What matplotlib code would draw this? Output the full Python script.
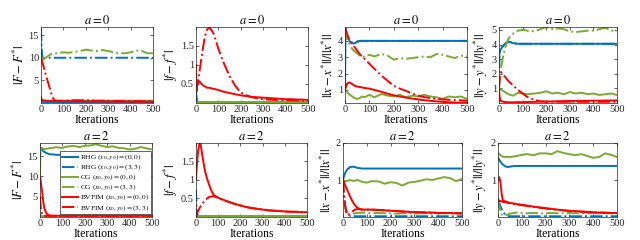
import matplotlib
matplotlib.use('Agg')
import matplotlib.pyplot as plt

plt.rcParams['font.family'] = ['Liberation Serif', 'DejaVu Serif']
plt.rcParams['mathtext.fontset'] = 'stix'

iters = [0, 2, 5, 10, 15, 20, 30, 40, 50, 60, 70, 80, 100, 120, 150, 175, 200,
         225, 250, 275, 300, 325, 350, 375, 400, 425, 450, 475, 500]

labels = [r'RHG $(x_0,y_0)=(0,0)$', r'RHG $(x_0,y_0)=(3,3)$',
          r'CG $(x_0,y_0)=(0,0)$', r'CG $(x_0,y_0)=(3,3)$',
          r'BVFIM $(x_0,y_0)=(0,0)$', r'BVFIM $(x_0,y_0)=(3,3)$']

# ---------- a = 0, |F - F*| ----------
F0_rhg00 = [1.2, 0.8, 0.4, 0.2, 0.12, 0.1, 0.1, 0.1, 0.1, 0.1, 0.1, 0.1, 0.1, 0.1, 0.1, 0.1, 0.1,
            0.1, 0.1, 0.1, 0.1, 0.1, 0.1, 0.1, 0.1, 0.1, 0.1, 0.1, 0.1]
F0_rhg33 = [16.5, 13.0, 10.5, 9.8, 9.8, 9.9, 10.0, 10.0, 10.0, 10.0, 10.0, 10.0, 10.0, 10.0, 10.0, 10.0, 10.0,
            10.0, 10.0, 10.0, 10.0, 10.0, 10.0, 10.0, 10.0, 10.0, 10.0, 10.0, 10.0]
F0_cg00 = [1.2, 1.0, 0.8, 0.6, 0.55, 0.5, 0.5, 0.5, 0.48, 0.5, 0.52, 0.5, 0.48, 0.5, 0.52, 0.5, 0.5,
           0.48, 0.5, 0.52, 0.5, 0.48, 0.5, 0.5, 0.52, 0.5, 0.48, 0.5, 0.5]
F0_cg33 = [10.0, 10.0, 10.0, 9.9, 9.9, 10.0, 10.3, 10.7, 10.9, 11.0, 11.0, 11.1, 11.2, 11.1, 11.3, 11.5, 11.8,
           11.6, 11.5, 11.7, 11.5, 11.2, 11.0, 11.0, 11.2, 11.6, 11.5, 11.0, 11.0]
F0_bv00 = [1.0, 0.8, 0.6, 0.5, 0.5, 0.5, 0.45, 0.45, 0.42, 0.42, 0.4, 0.4, 0.4, 0.4, 0.38, 0.38, 0.36,
           0.36, 0.35, 0.35, 0.34, 0.33, 0.32, 0.32, 0.31, 0.3, 0.3, 0.3, 0.3]
F0_bv33 = [10.0, 9.7, 9.2, 8.3, 7.4, 6.5, 4.8, 3.1, 1.4, 0.6, 0.5, 0.5, 0.5, 0.55, 0.6, 0.6, 0.6,
           0.55, 0.5, 0.5, 0.5, 0.48, 0.45, 0.45, 0.42, 0.42, 0.4, 0.4, 0.4]

# ---------- a = 0, |f - f*| ----------
f0_rhg00 = [0.25, 0.15, 0.05, 0.02, 0.01, 0.01, 0.01, 0.01, 0.01, 0.01, 0.01, 0.01, 0.01, 0.01, 0.01, 0.01, 0.01,
            0.01, 0.01, 0.01, 0.01, 0.01, 0.01, 0.01, 0.01, 0.01, 0.01, 0.01, 0.01]
f0_rhg33 = [0.3, 0.1, 0.03, 0.01, 0.01, 0.01, 0.01, 0.01, 0.01, 0.01, 0.01, 0.01, 0.01, 0.01, 0.01, 0.01, 0.01,
            0.01, 0.01, 0.01, 0.01, 0.01, 0.01, 0.01, 0.01, 0.01, 0.01, 0.01, 0.01]
f0_cg00 = [0.02, 0.02, 0.02, 0.02, 0.02, 0.02, 0.02, 0.02, 0.02, 0.02, 0.02, 0.02, 0.02, 0.02, 0.02, 0.02, 0.02,
           0.02, 0.02, 0.02, 0.02, 0.02, 0.02, 0.02, 0.02, 0.02, 0.02, 0.02, 0.02]
f0_cg33 = [0.02, 0.02, 0.02, 0.02, 0.02, 0.02, 0.02, 0.02, 0.02, 0.02, 0.02, 0.02, 0.02, 0.02, 0.02, 0.02, 0.02,
           0.02, 0.02, 0.02, 0.02, 0.02, 0.02, 0.02, 0.02, 0.02, 0.02, 0.02, 0.02]
f0_bv00 = [1.0, 0.3, 0.45, 0.57, 0.57, 0.53, 0.47, 0.43, 0.4, 0.4, 0.38, 0.37, 0.34, 0.3, 0.26, 0.23, 0.2,
           0.18, 0.16, 0.15, 0.14, 0.13, 0.12, 0.11, 0.1, 0.1, 0.09, 0.09, 0.08]
f0_bv33 = [0.3, 0.35, 0.45, 0.6, 0.8, 1.0, 1.4, 1.75, 1.93, 1.97, 1.9, 1.8, 1.42, 1.1, 0.7, 0.45, 0.27,
           0.2, 0.15, 0.12, 0.1, 0.09, 0.08, 0.08, 0.07, 0.07, 0.07, 0.06, 0.06]

# ---------- a = 0, ||x - x*|| / ||x*|| ----------
x0_rhg00 = [1.0, 4.8, 4.6, 4.3, 4.1, 3.95, 3.85, 3.85, 3.95, 4.0, 4.0, 4.0, 4.0, 4.0, 4.0, 4.0, 4.0,
            4.0, 4.0, 4.0, 4.0, 4.0, 4.0, 4.0, 4.0, 4.0, 4.0, 4.0, 4.0]
x0_rhg33 = [4.8, 4.7, 4.5, 4.3, 4.1, 4.0, 3.9, 3.9, 3.95, 4.0, 4.0, 4.0, 4.0, 4.0, 4.0, 4.0, 4.0,
            4.0, 4.0, 4.0, 4.0, 4.0, 4.0, 4.0, 4.0, 4.0, 4.0, 4.0, 4.0]
x0_cg00 = [1.0, 0.97, 0.95, 0.85, 0.78, 0.7, 0.6, 0.5, 0.45, 0.5, 0.6, 0.55, 0.7, 0.55, 0.75, 0.65, 0.6,
           0.7, 0.55, 0.65, 0.6, 0.7, 0.6, 0.55, 0.45, 0.6, 0.55, 0.6, 0.45]
x0_cg33 = [4.8, 4.6, 4.4, 4.1, 3.9, 3.75, 3.5, 3.35, 3.25, 3.1, 3.0, 3.05, 3.15, 3.05, 3.2, 3.1, 2.85,
           2.95, 2.9, 2.95, 3.0, 3.05, 3.0, 3.2, 3.15, 3.05, 2.95, 3.1, 3.05]
x0_bv00 = [1.0, 1.1, 1.25, 1.4, 1.45, 1.45, 1.35, 1.25, 1.2, 1.18, 1.15, 1.12, 1.08, 1.0, 0.88, 0.77, 0.67,
           0.6, 0.53, 0.47, 0.42, 0.37, 0.33, 0.3, 0.27, 0.25, 0.23, 0.22, 0.21]
x0_bv33 = [4.8, 4.7, 4.55, 4.35, 4.15, 4.0, 3.8, 3.6, 3.4, 3.2, 3.05, 2.9, 2.6, 2.3, 1.87, 1.55, 1.25,
           1.08, 0.94, 0.78, 0.65, 0.56, 0.5, 0.45, 0.42, 0.4, 0.38, 0.36, 0.35]

# ---------- a = 0, ||y - y*|| / ||y*|| ----------
y0_rhg00 = [3.2, 3.4, 3.6, 3.75, 3.85, 3.95, 4.1, 4.2, 4.15, 4.1, 4.07, 4.05, 4.05, 4.05, 4.05, 4.05, 4.05,
            4.05, 4.05, 4.05, 4.05, 4.05, 4.05, 4.05, 4.05, 4.05, 4.05, 4.05, 4.05]
y0_rhg33 = [1.0, 3.3, 3.6, 3.75, 3.85, 3.95, 4.1, 4.2, 4.15, 4.1, 4.07, 4.05, 4.05, 4.05, 4.05, 4.05, 4.05,
            4.05, 4.05, 4.05, 4.05, 4.05, 4.05, 4.05, 4.05, 4.05, 4.05, 4.05, 4.05]
y0_cg00 = [1.0, 1.0, 0.95, 0.9, 0.85, 0.8, 0.7, 0.6, 0.55, 0.5, 0.6, 0.7, 0.65, 0.6, 0.65, 0.7, 0.8,
           0.65, 0.7, 0.6, 0.75, 0.65, 0.7, 0.6, 0.65, 0.55, 0.6, 0.65, 0.55]
y0_cg33 = [1.0, 1.3, 1.8, 2.5, 3.0, 3.4, 4.0, 4.4, 4.6, 4.75, 4.85, 4.95, 5.0, 4.95, 4.9, 5.05, 5.2,
           5.05, 5.1, 5.05, 4.9, 4.85, 4.9, 4.95, 4.95, 5.05, 5.15, 4.95, 4.95]
y0_bv00 = [1.0, 0.5, 0.2, 0.12, 0.1, 0.08, 0.06, 0.05, 0.05, 0.05, 0.05, 0.06, 0.06, 0.07, 0.08, 0.09, 0.1,
           0.11, 0.12, 0.13, 0.14, 0.14, 0.15, 0.15, 0.16, 0.16, 0.17, 0.17, 0.18]
y0_bv33 = [1.0, 1.6, 2.0, 2.1, 2.0, 1.9, 1.7, 1.5, 1.35, 1.2, 1.05, 0.9, 0.65, 0.42, 0.22, 0.12, 0.08,
           0.08, 0.08, 0.08, 0.08, 0.08, 0.08, 0.08, 0.08, 0.08, 0.08, 0.08, 0.08]

# ---------- a = 2, |F - F*| ----------
F2_rhg00 = [16.5, 17.0, 16.8, 16.5, 16.2, 16.0, 15.7, 15.5, 15.4, 15.4, 15.3, 15.3, 15.3, 15.3, 15.3, 15.3, 15.3,
            15.3, 15.3, 15.3, 15.3, 15.3, 15.3, 15.3, 15.3, 15.3, 15.3, 15.3, 15.3]
F2_rhg33 = [0.5, 0.3, 0.1, 0.05, 0.05, 0.05, 0.05, 0.05, 0.05, 0.05, 0.05, 0.05, 0.05, 0.05, 0.05, 0.05, 0.05,
            0.05, 0.05, 0.05, 0.05, 0.05, 0.05, 0.05, 0.05, 0.05, 0.05, 0.05, 0.05]
F2_cg00 = [10.0, 16.5, 17.0, 17.0, 16.8, 16.7, 16.8, 16.9, 17.0, 17.0, 17.2, 17.1, 17.0, 17.3, 17.5, 17.2, 17.5,
           17.6, 17.9, 17.5, 17.2, 17.4, 17.0, 16.9, 16.6, 16.8, 17.2, 16.9, 16.6]
F2_cg33 = [0.5, 0.3, 0.2, 0.2, 0.2, 0.2, 0.2, 0.2, 0.2, 0.2, 0.2, 0.2, 0.2, 0.2, 0.2, 0.2, 0.2,
           0.2, 0.2, 0.2, 0.2, 0.2, 0.2, 0.2, 0.2, 0.2, 0.2, 0.2, 0.2]
F2_bv00 = [10.0, 9.5, 8.0, 6.0, 3.5, 2.0, 0.8, 0.4, 0.3, 0.3, 0.3, 0.3, 0.3, 0.3, 0.3, 0.3, 0.3,
           0.3, 0.3, 0.3, 0.3, 0.3, 0.3, 0.3, 0.3, 0.3, 0.3, 0.3, 0.3]
F2_bv33 = [5.0, 3.5, 1.5, 0.5, 0.3, 0.3, 0.3, 0.3, 0.3, 0.3, 0.3, 0.3, 0.3, 0.3, 0.3, 0.3, 0.3,
           0.3, 0.3, 0.3, 0.3, 0.3, 0.3, 0.3, 0.3, 0.3, 0.3, 0.3, 0.3]

# ---------- a = 2, |f - f*| ----------
f2_rhg00 = [0.2, 0.1, 0.04, 0.01, 0.01, 0.01, 0.01, 0.01, 0.01, 0.01, 0.01, 0.01, 0.01, 0.01, 0.01, 0.01, 0.01,
            0.01, 0.01, 0.01, 0.01, 0.01, 0.01, 0.01, 0.01, 0.01, 0.01, 0.01, 0.01]
f2_rhg33 = [0.75, 0.3, 0.1, 0.02, 0.01, 0.01, 0.01, 0.01, 0.01, 0.01, 0.01, 0.01, 0.01, 0.01, 0.01, 0.01, 0.01,
            0.01, 0.01, 0.01, 0.01, 0.01, 0.01, 0.01, 0.01, 0.01, 0.01, 0.01, 0.01]
f2_cg00 = [0.02, 0.02, 0.02, 0.02, 0.02, 0.02, 0.02, 0.02, 0.02, 0.02, 0.02, 0.02, 0.02, 0.02, 0.02, 0.02, 0.02,
           0.02, 0.02, 0.02, 0.02, 0.02, 0.02, 0.02, 0.02, 0.02, 0.02, 0.02, 0.02]
f2_cg33 = [0.02, 0.02, 0.02, 0.02, 0.02, 0.02, 0.02, 0.02, 0.02, 0.02, 0.02, 0.02, 0.02, 0.02, 0.02, 0.02, 0.02,
           0.02, 0.02, 0.02, 0.02, 0.02, 0.02, 0.02, 0.02, 0.02, 0.02, 0.02, 0.02]
f2_bv00 = [1.0, 1.2, 1.5, 1.8, 1.95, 1.98, 1.6, 1.25, 1.03, 0.85, 0.7, 0.59, 0.52, 0.47, 0.4, 0.35, 0.31,
           0.27, 0.24, 0.22, 0.2, 0.18, 0.17, 0.16, 0.15, 0.14, 0.14, 0.13, 0.13]
f2_bv33 = [0.0, 0.05, 0.1, 0.17, 0.23, 0.28, 0.37, 0.45, 0.5, 0.54, 0.55, 0.56, 0.51, 0.46, 0.4, 0.35, 0.31,
           0.27, 0.24, 0.22, 0.2, 0.18, 0.17, 0.16, 0.15, 0.14, 0.14, 0.13, 0.13]

# ---------- a = 2, ||x - x*|| / ||x*|| ----------
x2_rhg00 = [1.0, 1.05, 1.12, 1.2, 1.26, 1.3, 1.35, 1.36, 1.35, 1.33, 1.32, 1.31, 1.31, 1.31, 1.31, 1.31, 1.31,
            1.31, 1.31, 1.31, 1.31, 1.31, 1.31, 1.31, 1.31, 1.31, 1.31, 1.31, 1.31]
x2_rhg33 = [1.0, 0.8, 0.55, 0.3, 0.15, 0.08, 0.03, 0.02, 0.02, 0.02, 0.02, 0.02, 0.02, 0.02, 0.02, 0.02, 0.02,
            0.02, 0.02, 0.02, 0.02, 0.02, 0.02, 0.02, 0.02, 0.02, 0.02, 0.02, 0.02]
x2_cg00 = [1.0, 0.99, 0.98, 0.97, 0.97, 0.98, 1.0, 0.98, 0.98, 1.0, 0.98, 0.95, 0.93, 0.97, 0.96, 0.9, 0.94,
           0.92, 0.85, 0.93, 0.95, 0.98, 1.02, 1.0, 1.04, 1.08, 1.05, 0.97, 1.03]
x2_cg33 = [1.0, 0.8, 0.5, 0.25, 0.12, 0.05, 0.05, 0.07, 0.1, 0.11, 0.11, 0.12, 0.11, 0.1, 0.11, 0.1, 0.1,
           0.09, 0.1, 0.1, 0.09, 0.1, 0.1, 0.09, 0.1, 0.1, 0.09, 0.1, 0.1]
x2_bv00 = [1.0, 0.98, 0.93, 0.85, 0.77, 0.7, 0.55, 0.42, 0.32, 0.25, 0.22, 0.2, 0.2, 0.2, 0.19, 0.18, 0.17,
           0.16, 0.15, 0.14, 0.13, 0.13, 0.12, 0.12, 0.11, 0.11, 0.11, 0.1, 0.1]
x2_bv33 = [1.0, 0.8, 0.5, 0.25, 0.1, 0.05, 0.1, 0.15, 0.2, 0.21, 0.21, 0.2, 0.2, 0.2, 0.19, 0.18, 0.17,
           0.16, 0.15, 0.14, 0.13, 0.13, 0.12, 0.12, 0.11, 0.11, 0.11, 0.1, 0.1]

# ---------- a = 2, ||y - y*|| / ||y*|| ----------
y2_rhg00 = [1.6, 1.58, 1.55, 1.5, 1.45, 1.42, 1.37, 1.35, 1.36, 1.37, 1.38, 1.38, 1.38, 1.38, 1.38, 1.38, 1.38,
            1.38, 1.38, 1.38, 1.38, 1.38, 1.38, 1.38, 1.38, 1.38, 1.38, 1.38, 1.38]
y2_rhg33 = [0.5, 0.45, 0.38, 0.3, 0.22, 0.15, 0.07, 0.03, 0.02, 0.02, 0.02, 0.02, 0.02, 0.02, 0.02, 0.02, 0.02,
            0.02, 0.02, 0.02, 0.02, 0.02, 0.02, 0.02, 0.02, 0.02, 0.02, 0.02, 0.02]
y2_cg00 = [1.7, 1.72, 1.7, 1.68, 1.65, 1.63, 1.62, 1.63, 1.62, 1.63, 1.64, 1.65, 1.68, 1.7, 1.67, 1.72, 1.72,
           1.7, 1.78, 1.73, 1.7, 1.67, 1.7, 1.65, 1.6, 1.62, 1.72, 1.68, 1.62]
y2_cg33 = [0.5, 0.42, 0.3, 0.18, 0.08, 0.04, 0.04, 0.06, 0.09, 0.1, 0.11, 0.12, 0.11, 0.1, 0.11, 0.1, 0.1,
           0.11, 0.1, 0.1, 0.11, 0.1, 0.1, 0.1, 0.11, 0.1, 0.1, 0.1, 0.11]
y2_bv00 = [1.0, 1.05, 1.08, 0.95, 0.65, 0.45, 0.42, 0.4, 0.38, 0.37, 0.36, 0.35, 0.33, 0.31, 0.28, 0.26, 0.24,
           0.22, 0.2, 0.18, 0.17, 0.16, 0.15, 0.14, 0.13, 0.12, 0.12, 0.11, 0.11]
y2_bv33 = [0.45, 0.45, 0.44, 0.43, 0.42, 0.41, 0.4, 0.39, 0.37, 0.36, 0.35, 0.34, 0.32, 0.3, 0.27, 0.25, 0.23,
           0.21, 0.19, 0.18, 0.16, 0.15, 0.14, 0.13, 0.12, 0.12, 0.11, 0.11, 0.1]

titles = [r'$a=0$', r'$a=0$', r'$a=0$', r'$a=0$', r'$a=2$', r'$a=2$', r'$a=2$', r'$a=2$']
ylabels = [r'$|F-F^{*}|$', r'$|f-f^{*}|$', r'$||x-x^{*}||/||x^{*}||$', r'$||y-y^{*}||/||y^{*}||$'] * 2
xticks = [0, 100, 200, 300, 400, 500]

panels = [
    [F0_rhg00, F0_rhg33, F0_cg00, F0_cg33, F0_bv00, F0_bv33],
    [f0_rhg00, f0_rhg33, f0_cg00, f0_cg33, f0_bv00, f0_bv33],
    [x0_rhg00, x0_rhg33, x0_cg00, x0_cg33, x0_bv00, x0_bv33],
    [y0_rhg00, y0_rhg33, y0_cg00, y0_cg33, y0_bv00, y0_bv33],
    [F2_rhg00, F2_rhg33, F2_cg00, F2_cg33, F2_bv00, F2_bv33],
    [f2_rhg00, f2_rhg33, f2_cg00, f2_cg33, f2_bv00, f2_bv33],
    [x2_rhg00, x2_rhg33, x2_cg00, x2_cg33, x2_bv00, x2_bv33],
    [y2_rhg00, y2_rhg33, y2_cg00, y2_cg33, y2_bv00, y2_bv33],
]

ylims = [(0, 16.8), (0, 1.99), (0.2, 4.85), (0, 5.2), (0, 18.2), (0, 1.99), (0, 2), (0, 2)]
yticks = [[5, 10, 15], [0.5, 1, 1.5], [1, 2, 3, 4], [1, 2, 3, 4, 5],
          [5, 10, 15], [0.5, 1, 1.5], [1, 2], [1, 2]]

colors = ['#0072BD', '#0072BD', '#77AC30', '#77AC30', '#FF0000', '#FF0000']
styles = ['-', '-.', '-', '-.', '-', '-.']

W, H = 640, 240
boxes = [(41, 27, 112, 76), (196, 27, 112, 76), (345, 27, 122, 76), (499, 27, 118, 76),
         (40, 143, 112, 74), (196, 143, 111, 74), (343, 143, 119, 74), (498, 143, 119, 74)]

fig = plt.figure(figsize=(6.4, 2.4), dpi=100)
for k in range(8):
    x, y, w, h = boxes[k]
    ax = fig.add_axes([x / W, 1 - (y + h) / H, w / W, h / H])
    for s in range(6):
        ax.plot(iters, panels[k][s], color=colors[s], ls=styles[s], lw=1.4, label=labels[s])
    ax.set_xlim(0, 500)
    ax.set_ylim(*ylims[k])
    ax.set_xticks(xticks)
    ax.set_yticks(yticks[k])
    ax.set_yticklabels([('%g' % t) for t in yticks[k]])
    ax.tick_params(direction='in', top=True, right=True, labelsize=7.5, length=2.5,
                   width=0.5, pad=1.5, colors='#262626')
    for sp in ax.spines.values():
        sp.set_linewidth(0.5)
        sp.set_color('#262626')
    ax.set_title(titles[k], fontsize=9, pad=2.5)
    ax.set_ylabel(ylabels[k], fontsize=9, labelpad=1)
    ax.set_xlabel('Iterations', fontsize=8.5, labelpad=0)
    if k == 4:
        leg = ax.legend(loc='upper right', bbox_to_anchor=(0.995, 0.89), fontsize=5.3,
                        handlelength=2.2, handletextpad=0.3, borderpad=0.25,
                        labelspacing=0.1, borderaxespad=0.0, fancybox=False, framealpha=1)
        leg.get_frame().set_linewidth(0.5)
        leg.get_frame().set_edgecolor('#262626')

fig.savefig('out.png', dpi=100)
